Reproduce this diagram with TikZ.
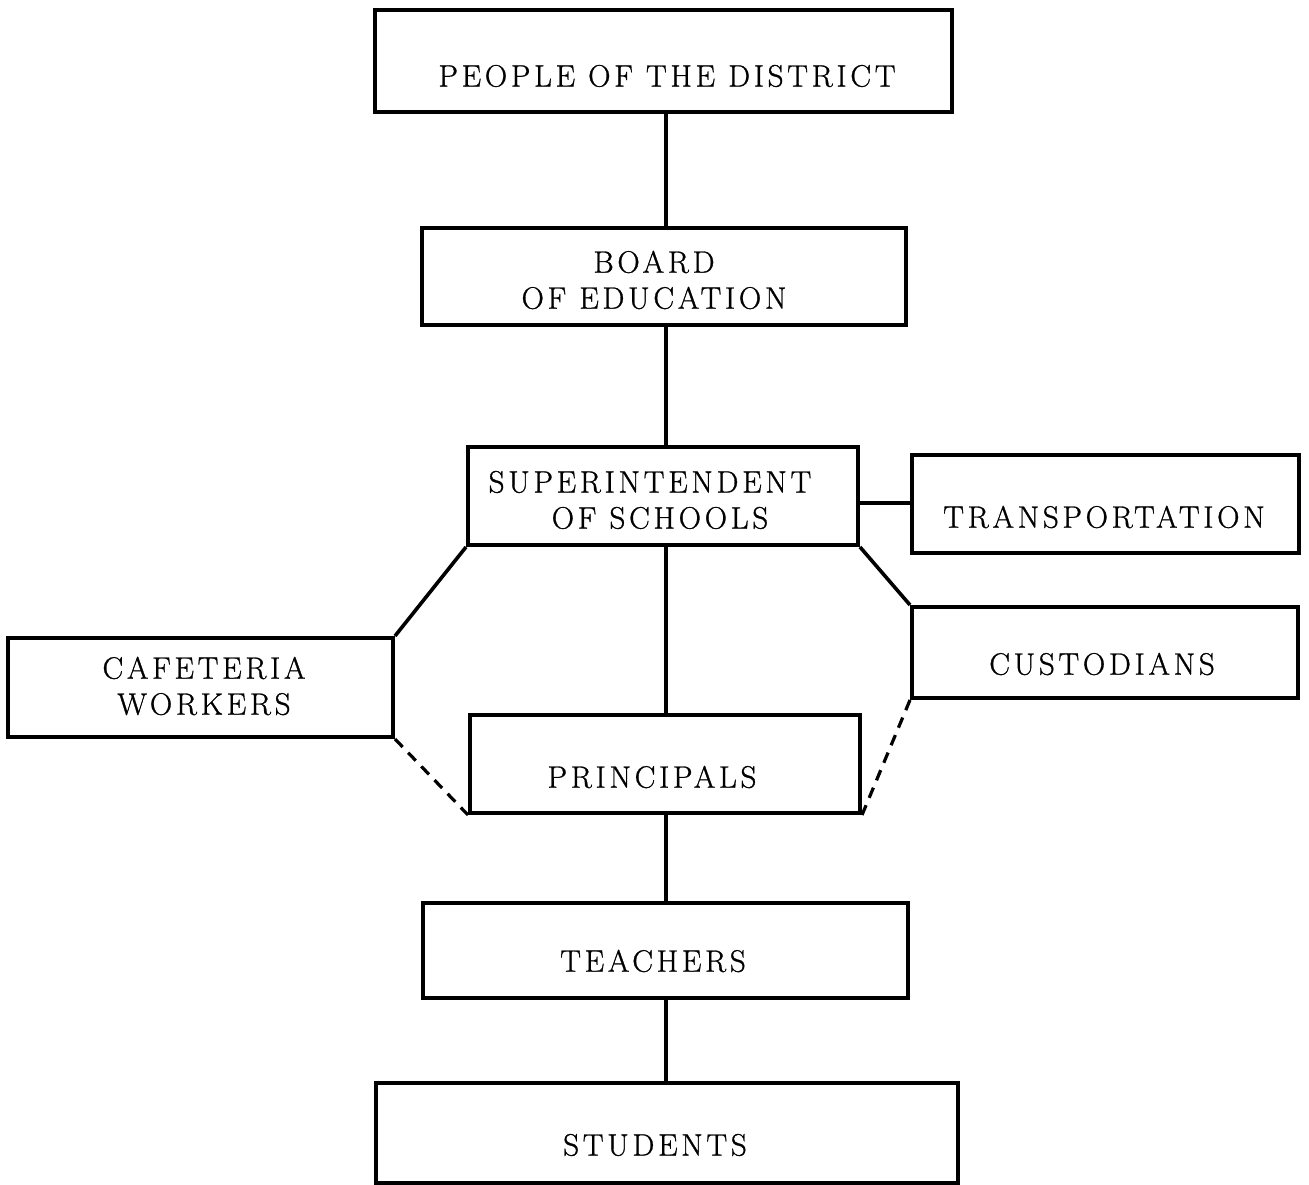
\documentclass[tikz,border=0pt]{standalone}
\usepackage{fontspec}
\setmainfont{Latin Modern Roman}[LetterSpace=12,FakeBold=0.9]
\begin{document}
\begin{tikzpicture}[x=1pt,y=-1pt,
  box/.style={draw, line width=4pt, inner sep=0pt},
  lbl/.style={font=\fontsize{31}{36}\selectfont, align=center, inner sep=0pt},
  link/.style={line width=3.6pt},
  dotted link/.style={line width=3.2pt, dash pattern=on 11pt off 8pt}]
  \useasboundingbox (0,0) rectangle (1309,1185);
  \coordinate (trunk) at (666,0);

  % boxes
  \node[box, minimum width=577pt, minimum height=102pt] (people)  at (663.5,61) {};
  \node[box, minimum width=484pt, minimum height=97pt]  (board)   at (664,276.5) {};
  \node[box, minimum width=390pt, minimum height=98pt]  (super)   at (663,496) {};
  \node[box, minimum width=387pt, minimum height=98pt]  (trans)   at (1105,504) {};
  \node[box, minimum width=385pt, minimum height=99pt]  (caf)     at (200.5,687.5) {};
  \node[box, minimum width=386pt, minimum height=91pt]  (cust)    at (1105,652.5) {};
  \node[box, minimum width=390pt, minimum height=98pt]  (princ)   at (665,764) {};
  \node[box, minimum width=485pt, minimum height=95pt]  (teach)   at (665.5,950.5) {};
  \node[box, minimum width=582pt, minimum height=100pt] (stud)    at (667,1133) {};

  % labels
  \node[lbl] (people-t) at (667,76)   {PEOPLE OF THE DISTRICT};
  \node[lbl] (board-t)  at (654,280)  {BOARD\\OF EDUCATION};
  \node[lbl] (super-t)  at (650,500)  {SUPERINTENDENT\\\hspace*{20pt}OF SCHOOLS};
  \node[lbl] (trans-t)  at (1104,517) {TRANSPORTATION};
  \node[lbl] (caf-t)    at (204,686)  {CAFETERIA\\WORKERS};
  \node[lbl] (cust-t)   at (1102,664) {CUSTODIANS};
  \node[lbl] (princ-t)  at (652,777)  {PRINCIPALS};
  \node[lbl] (teach-t)  at (653,961)  {TEACHERS};
  \node[lbl] (stud-t)   at (655,1145) {STUDENTS};

  % main line of authority
  \draw[link] (people.south -| trunk) -- (board.north -| trunk);
  \draw[link] (board.south -| trunk)  -- (super.north -| trunk);
  \draw[link] (super.south -| trunk)  -- (princ.north -| trunk);
  \draw[link] (princ.south -| trunk)  -- (teach.north -| trunk);
  \draw[link] (teach.south -| trunk)  -- (stud.north -| trunk);

  % staff services
  \coordinate (tr-join) at (trans.west |- 0,503);
  \draw[link] (tr-join) -- (tr-join -| super.east);
  \draw[link] (super.south west) -- (caf.north east);
  \draw[link] (super.south east) -- (cust.north west);

  % cooperative relations with principals
  \draw[dotted link] (caf.south east) -- (princ.south west);
  \draw[dotted link] (cust.south west) -- (princ.south east);
\end{tikzpicture}
\end{document}
